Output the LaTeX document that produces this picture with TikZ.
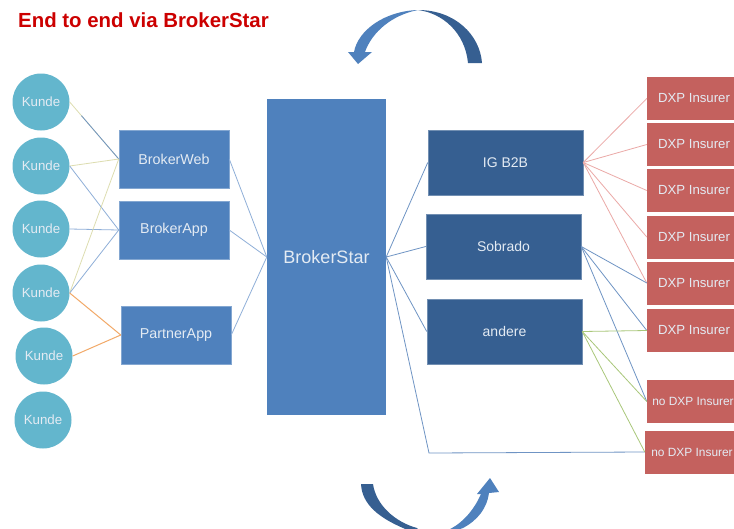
\documentclass[tikz,border=0pt]{standalone}
\usepackage{fontspec}
\setmainfont{Liberation Sans}
\definecolor{midblue}{HTML}{4F81BD}
\definecolor{darkblue}{HTML}{365F91}
\definecolor{insurer}{HTML}{C4615E}
\definecolor{teal}{HTML}{63B6CD}
\definecolor{lineblue}{HTML}{8FAFD8}
\definecolor{linedark}{HTML}{6F94C4}
\definecolor{linered}{HTML}{EBA9A7}
\definecolor{linegreen}{HTML}{A9C77A}
\definecolor{lineyellow}{HTML}{DDDDB0}
\definecolor{lineorange}{HTML}{F2A968}
\definecolor{labeltext}{HTML}{E4EBF3}
\tikzset{
  kunde/.style={circle,fill=teal,draw=none,minimum size=57pt,inner sep=0pt,text=labeltext,font=\fontsize{13.3}{15}\selectfont},
  frontbox/.style={rectangle,fill=midblue,draw=midblue!70!white,line width=.5pt,minimum width=110pt,minimum height=58pt,inner sep=0pt,text=labeltext,font=\fontsize{14.3}{16}\selectfont},
  hubbox/.style={rectangle,fill=midblue,draw=none,minimum width=119pt,minimum height=316pt,inner sep=0pt,text=labeltext,font=\fontsize{18}{20}\selectfont},
  backbox/.style={rectangle,fill=darkblue,draw=darkblue!70!white,line width=.5pt,minimum width=155pt,minimum height=65pt,inner sep=0pt,text=labeltext,font=\fontsize{14}{16}\selectfont},
  insbox/.style={rectangle,fill=insurer,draw=none,minimum width=94pt,minimum height=43pt,inner sep=0pt,text=labeltext,font=\fontsize{13.2}{15}\selectfont},
  noinsbox/.style={insbox,font=\fontsize{11.9}{15}\selectfont},
  wire/.style={line width=.8pt},
  wblue/.style={wire,draw=lineblue},
  wdark/.style={wire,draw=linedark},
  wred/.style={wire,draw=linered},
  wgreen/.style={wire,draw=linegreen},
  wyellow/.style={wire,draw=lineyellow},
  worange/.style={wire,draw=lineorange,line width=1pt},
}
\begin{document}
\begin{tikzpicture}[x=1pt,y=-1pt]
\clip (0,0) rectangle (734,528);
\fill[white] (0,0) rectangle (734,528);
% Nodes
\node[kunde] (k1) at (41,102) {Kunde};
\node[kunde] (k2) at (41,166) {Kunde};
\node[kunde] (k3) at (41,229) {Kunde};
\node[kunde] (k4) at (41,293) {Kunde};
\node[kunde] (k5) at (44,356) {Kunde};
\node[kunde] (k6) at (43,420) {Kunde};
\node[frontbox] (web) at (174,159) {BrokerWeb};
\node[frontbox] (app) at (174,230) {BrokerApp};
\node[frontbox] (partner) at (176,335) {PartnerApp};
\node[hubbox] (hub) at (326.5,257) {BrokerStar};
\node[backbox] (ig) at (505.5,162.5) {IG B2B};
\node[backbox] (sob) at (503.5,246.5) {Sobrado};
\node[backbox] (and) at (504.5,331.5) {andere};
\node[insbox] (d1) at (694,98.5) {DXP Insurer};
\node[insbox] (d2) at (694,144.5) {DXP Insurer};
\node[insbox] (d3) at (694,190.5) {DXP Insurer};
\node[insbox] (d4) at (694,237) {DXP Insurer};
\node[insbox] (d5) at (694,283) {DXP Insurer};
\node[insbox] (d6) at (694,330.5) {DXP Insurer};
\node[noinsbox,minimum width=92pt] (n1) at (693,401.5) {no DXP Insurer};
\node[noinsbox] (n2) at (692,452) {no DXP Insurer};
\coordinate (corner) at (429,453);
% Connectors
\draw[wyellow] (k1.east) -- (web.west);
\draw[wdark,shorten <=18pt] (k1.east) -- (web.west);
\draw[wyellow] (k2.east) -- (web.west);
\draw[wblue] (k2.east) -- (app.west);
\draw[wblue] (k3.east) -- (app.west);
\draw[wyellow] (k4.east) -- (web.west);
\draw[wblue] (k4.east) -- (app.west);
\draw[worange] (k4.east) -- (partner.west);
\draw[worange] (k5.east) -- (partner.west);
\draw[wblue] (web.east) -- (hub.west);
\draw[wblue] (app.east) -- (hub.west);
\draw[wblue] (partner.east) -- (hub.west);
\draw[wdark] (hub.east) -- (ig.west);
\draw[wdark] (hub.east) -- (sob.west);
\draw[wdark] (hub.east) -- (and.west);
\draw[wdark] (hub.east) -- (corner) -- (n2.west);
\foreach \t in {d1,d2,d3,d4,d5} \draw[wred] (ig.east) -- (\t.west);
\foreach \t in {d5,d6,n1} \draw[wdark] (sob.east) -- (\t.west);
\foreach \t in {d6,n1,n2} \draw[wgreen] (and.east) -- (\t.west);
% Title
\node[anchor=west,inner sep=0pt,text=red!80!black,font=\bfseries\fontsize{20.4}{24}\selectfont] (title) at (18,20) {End to end via BrokerStar};
% Top circular arrow
\fill[darkblue] (468,63) -- (482,63) .. controls (480,35) and (455,10) .. (418,10) .. controls (442,13) and (465,32) .. (468,63) -- cycle;
\fill[midblue] (418,10) .. controls (385,11) and (358,30) .. (354,52) -- (348,52) -- (358,64) -- (372,52) -- (365,52) .. controls (372,32) and (392,15) .. (418,10) -- cycle;
% Bottom circular arrow
\fill[darkblue] (361,484) -- (373,484) .. controls (376,505) and (395,522) .. (417,528) -- (428,540) -- (403,528) .. controls (380,518) and (362,505) .. (361,484) -- cycle;
\fill[midblue] (481,494) .. controls (474,510) and (463,522) .. (452,528) -- (428,540) -- (463,528) .. controls (478,520) and (487,508) .. (489,493) -- (499,492) -- (490,478) -- (477,494) -- cycle;
\end{tikzpicture}
\end{document}
